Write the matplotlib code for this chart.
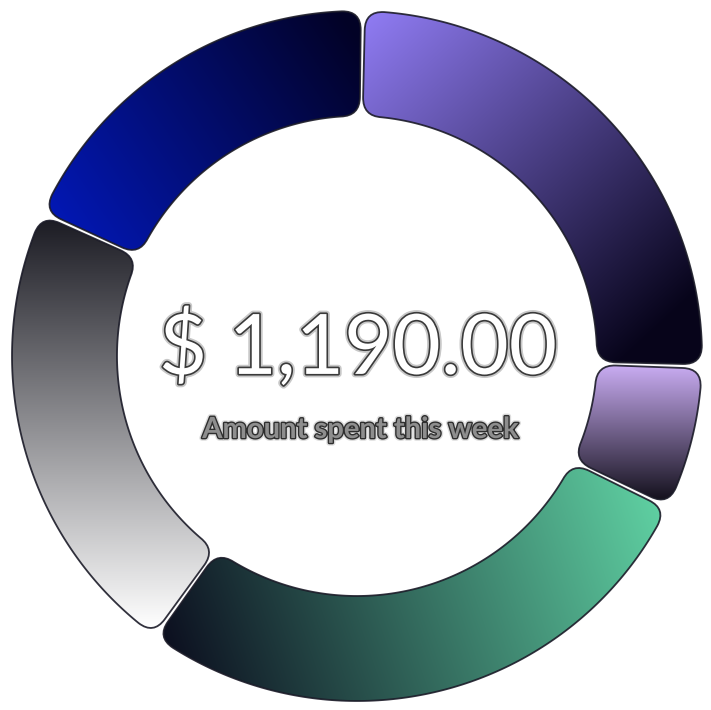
import numpy as np
import matplotlib
matplotlib.use("Agg")
import matplotlib.pyplot as plt
from matplotlib.path import Path
from matplotlib.patches import PathPatch
import matplotlib.patheffects as pe

# ---- data ----
categories = ["A", "B", "C", "D", "E"]
values = [300, 80, 330, 260, 220]
total_label = "$ 1,190.00"
subtitle = "Amount spent this week"

# gradient stops per segment (start colour, end colour)
grad_colors = [
    ("#8f7bf2", "#07041a"),
    ("#c9acf2", "#14111d"),
    ("#5fd0a2", "#0a0a1c"),
    ("#1c1c24", "#ffffff"),
    ("#0219bd", "#020226"),
]

W, H = 711, 710
cx, cy = 357, 356
R_out, R_in = 345, 240
corner = 19
pad_deg = 0.35
start_offset = 1.0

fig = plt.figure(figsize=(W / 100, H / 100), dpi=100)
ax = fig.add_axes([0, 0, 1, 1])
ax.set_xlim(0, W)
ax.set_ylim(H, 0)
ax.axis("off")


def pt(theta_deg, rad):
    t = np.deg2rad(theta_deg)
    return (cx + rad * np.sin(t), cy - rad * np.cos(t))


def rounded_sector(a0, a1, R, r, c):
    verts, codes = [], []
    do_ = np.rad2deg(c / R)
    di_ = np.rad2deg(c / r)
    th = np.linspace(a0 + do_, a1 - do_, 120)
    for i, t in enumerate(th):
        verts.append(pt(t, R)); codes.append(Path.MOVETO if i == 0 else Path.LINETO)
    verts += [pt(a1, R), pt(a1, R - c)]; codes += [Path.CURVE3, Path.CURVE3]
    verts.append(pt(a1, r + c)); codes.append(Path.LINETO)
    verts += [pt(a1, r), pt(a1 - di_, r)]; codes += [Path.CURVE3, Path.CURVE3]
    th = np.linspace(a1 - di_, a0 + di_, 100)
    for t in th[1:]:
        verts.append(pt(t, r)); codes.append(Path.LINETO)
    verts += [pt(a0, r), pt(a0, r + c)]; codes += [Path.CURVE3, Path.CURVE3]
    verts.append(pt(a0, R - c)); codes.append(Path.LINETO)
    verts += [pt(a0, R), pt(a0 + do_, R)]; codes += [Path.CURVE3, Path.CURVE3]
    verts.append(verts[0]); codes.append(Path.CLOSEPOLY)
    return Path(verts, codes)


def hex2rgb(h):
    return np.array(matplotlib.colors.to_rgb(h))


yy, xx = np.mgrid[0:H, 0:W] + 0.5

total = sum(values)
angles = [start_offset]
for v in values:
    angles.append(angles[-1] + v / total * 360)

for i, v in enumerate(values):
    a0 = angles[i] + pad_deg
    a1 = angles[i + 1] - pad_deg
    path = rounded_sector(a0, a1, R_out, R_in, corner)
    ext = path.get_extents()
    if i == 0:      # diagonal top-left -> bottom-right
        p0 = np.array([ext.x0 + 10, ext.y0]); p1 = np.array([ext.x1 - 40, ext.y1 - 40])
    elif i == 1:    # vertical top -> bottom
        p0 = np.array([ext.x0, ext.y0]); p1 = np.array([ext.x0, ext.y1])
    elif i == 2:    # right -> left
        p0 = np.array([ext.x1, ext.y0 + 40]); p1 = np.array([ext.x0, ext.y1 - 20])
    elif i == 3:    # top -> bottom
        p0 = np.array([ext.x0, ext.y0]); p1 = np.array([ext.x0, ext.y1])
    else:           # left -> right
        p0 = np.array([ext.x0, ext.y1]); p1 = np.array([ext.x1, ext.y0 + 30])
    d = p1 - p0
    t = ((xx - p0[0]) * d[0] + (yy - p0[1]) * d[1]) / (d @ d)
    t = np.clip(t, 0, 1)[..., None]
    c0, c1 = hex2rgb(grad_colors[i][0]), hex2rgb(grad_colors[i][1])
    img = c0 * (1 - t) + c1 * t
    patch = PathPatch(path, facecolor="none", edgecolor="none")
    ax.add_patch(patch)
    im = ax.imshow(img, extent=(0, W, H, 0), origin="upper", zorder=2 + i * 0.1,
                   interpolation="bilinear")
    im.set_clip_path(patch)
    edge = PathPatch(path, facecolor="none", edgecolor="#1b1b28", linewidth=1.3,
                     zorder=2.05 + i * 0.1, alpha=0.9)
    ax.add_patch(edge)

ax.set_xlim(0, W)
ax.set_ylim(H, 0)

ax.text(358, 349, total_label, ha="center", va="center", fontsize=60,
        family=["Lato", "DejaVu Sans"], color="white", zorder=10,
        path_effects=[pe.Stroke(linewidth=5, foreground="#c8c8c8"),
                      pe.Stroke(linewidth=2.4, foreground="#3a3a3a"),
                      pe.Normal()])
ax.text(360, 430, subtitle, ha="center", va="center", fontsize=21,
        family=["Lato", "DejaVu Sans"], fontweight="bold", color="#8e8e8e", zorder=10,
        path_effects=[pe.Stroke(linewidth=4, foreground="#dddddd"),
                      pe.Stroke(linewidth=2, foreground="#2e2e2e"),
                      pe.Normal()])

fig.savefig("out.png", dpi=100)
